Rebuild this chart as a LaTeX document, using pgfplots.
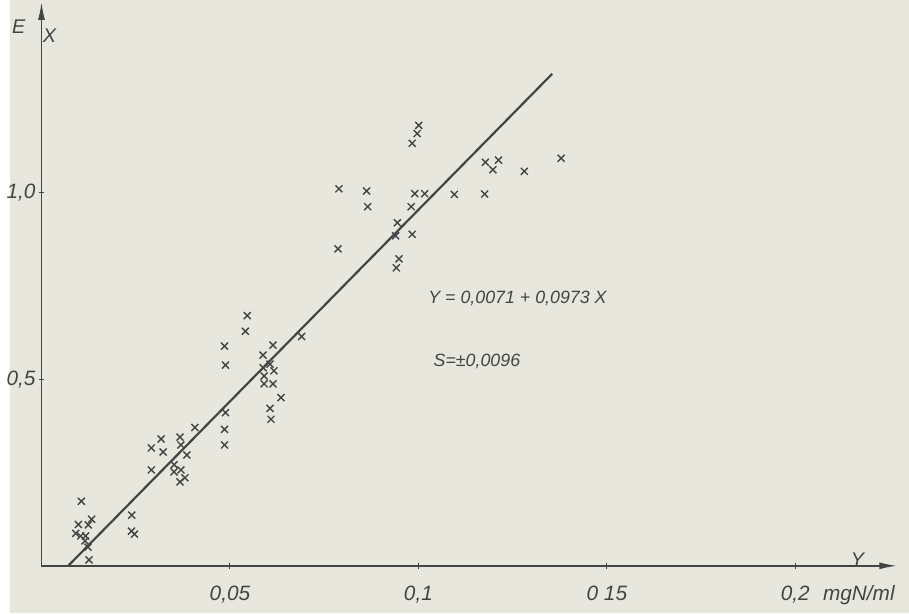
\documentclass[border=0pt]{standalone}
\usepackage{pgfplots}
\pgfplotsset{compat=1.18}
\usetikzlibrary{arrows.meta}
\usepackage{fontspec}
\setmainfont{Liberation Sans}
\definecolor{bg}{RGB}{232,231,222}
\definecolor{ink}{RGB}{68,68,68}
\begin{document}
\begin{tikzpicture}[x=1pt,y=1pt]
\fill[bg] (0,0) rectangle (454.5,310);
\begin{axis}[
  at={(16pt,24pt)}, anchor=south west,
  scale only axis, width=432.5pt, height=285pt,
  xmin=0, xmax=0.227, ymin=0, ymax=1.512,
  axis lines=left,
  axis line style={ink, line width=0.8pt, -{Latex[length=9pt,width=3.5pt]}},
  xtick={0.05,0.1,0.15,0.2},
  xticklabels={{0,05},{0,1},{0 15},{0,2}},
  ytick={0.5,1.0},
  yticklabels={{0,5},{1,0}},
  tick style={ink, line width=0.5pt},
  major tick length=3pt,
  tick label style={font=\fontsize{10.5}{12}\selectfont\itshape, text=ink},
  xticklabel style={yshift=-5pt},
  yticklabel style={xshift=2pt},
  clip=false,
]
\addplot[only marks, mark=x, mark size=2.5pt, ink, mark options={line width=0.7pt}] coordinates {
(0.01058,0.173) (0.00979,0.111) (0.01331,0.125) (0.01241,0.110) (0.00911,0.087)
(0.01042,0.080) (0.01173,0.080) (0.01155,0.067) (0.01234,0.050) (0.01260,0.016)
(0.02396,0.136) (0.02467,0.085) (0.02388,0.093)
(0.02913,0.257) (0.02913,0.316) (0.03176,0.340) (0.03228,0.305) (0.03675,0.345)
(0.03701,0.324) (0.03858,0.297) (0.03517,0.271) (0.03517,0.252) (0.03701,0.257)
(0.03806,0.236) (0.03675,0.225) (0.04068,0.371)
(0.04856,0.589) (0.04882,0.538) (0.04882,0.411) (0.04856,0.366) (0.04856,0.324)
(0.05459,0.671) (0.05407,0.629) (0.06142,0.592) (0.05879,0.565) (0.06063,0.541)
(0.05879,0.531) (0.06168,0.523) (0.05906,0.509) (0.05906,0.488) (0.06142,0.488)
(0.06352,0.451) (0.06063,0.422) (0.06089,0.393) (0.06903,0.615)
(0.07892,1.011) (0.07866,0.850) (0.08627,1.005) (0.08654,0.963) (0.10008,1.181)
(0.09966,1.159) (0.09835,1.133) (0.09903,0.998) (0.10165,0.998) (0.09808,0.963)
(0.09441,0.920) (0.09396,0.885) (0.09835,0.889) (0.09483,0.823) (0.09415,0.799)
(0.10953,0.996) (0.11759,0.997) (0.11777,1.082) (0.12126,1.088) (0.11976,1.062)
(0.12808,1.058) (0.13787,1.093)
};
\addplot[ink, line width=1.1pt] coordinates {(0.0071,0) (0.1355,1.3194)};
\node[anchor=west, text=ink, font=\fontsize{9}{11}\selectfont\itshape] at (axis cs:0.1008,0.718) {Y = 0,0071 + 0,0973 X};
\node[anchor=west, text=ink, font=\fontsize{9}{11}\selectfont\itshape] at (axis cs:0.1022,0.549) {S=±0,0096};
\node[anchor=west, text=ink, font=\fontsize{10.5}{12}\selectfont\itshape] at (axis cs:0.2055,0) [yshift=-15pt] {mgN/ml};
\node[text=ink, font=\fontsize{10}{12}\selectfont\itshape] at (axis cs:0.2165,0) [yshift=3pt] {Y};
\end{axis}
\node[text=ink, font=\fontsize{10}{12}\selectfont\itshape] at (4.5,296.5) {E};
\node[text=ink, font=\fontsize{10}{12}\selectfont\itshape] at (20,292) {X};
\end{tikzpicture}
\end{document}
